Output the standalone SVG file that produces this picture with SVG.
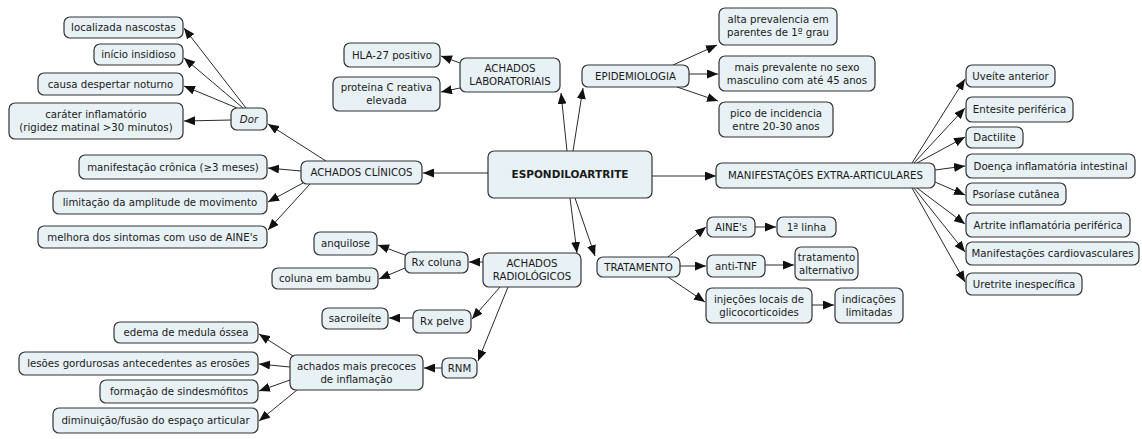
<svg xmlns="http://www.w3.org/2000/svg" width="1142" height="439" viewBox="0 0 1142 439">
  <defs>
    <marker id="arrow" markerUnits="userSpaceOnUse" markerWidth="12" markerHeight="9" refX="11" refY="4.5" orient="auto">
      <path d="M0,0 L11,4.5 L0,9 z" fill="#111"/>
    </marker>
    <style>
      .n rect { fill: #e8f1f5; stroke: #333; stroke-width: 1.2; }
      .n text { font-family: "DejaVu Sans", Verdana, sans-serif; font-size: 10.2px; fill: #1a1a1a; text-anchor: middle; }
      .b text { font-weight: bold; font-size: 10.5px; }
      .i text { font-style: italic; }
      #connectors line { stroke: #2a2a2a; stroke-width: 1; marker-end: url(#arrow); }
    </style>
  </defs>
  <rect width="1142" height="439" fill="#fff"/>

  <g id="connectors">
    <!-- central concept -->
    <line x1="488" y1="173" x2="423" y2="173"/>
    <line x1="652" y1="176" x2="716" y2="176"/>
    <line x1="567" y1="151" x2="561" y2="93"/>
    <line x1="573" y1="151" x2="583" y2="88"/>
    <line x1="570" y1="198" x2="577" y2="253"/>
    <line x1="575" y1="198" x2="595" y2="256"/>
    <!-- achados clinicos -->
    <line x1="326" y1="161" x2="268" y2="124"/>
    <line x1="301" y1="171" x2="268" y2="168"/>
    <line x1="303" y1="183" x2="268" y2="202"/>
    <line x1="310" y1="184" x2="268" y2="230"/>
    <!-- dor -->
    <line x1="246" y1="108" x2="184" y2="28"/>
    <line x1="243" y1="108" x2="184" y2="58"/>
    <line x1="237" y1="108" x2="184" y2="86"/>
    <line x1="231" y1="120" x2="184" y2="121"/>
    <!-- laboratoriais -->
    <line x1="460" y1="63" x2="441" y2="56"/>
    <line x1="460" y1="88" x2="441" y2="92"/>
    <!-- epidemiologia -->
    <line x1="673" y1="65" x2="717" y2="45"/>
    <line x1="689" y1="74" x2="718" y2="74"/>
    <line x1="677" y1="87" x2="718" y2="101"/>
    <!-- extra-articulares -->
    <line x1="912" y1="163" x2="965" y2="79"/>
    <line x1="914" y1="163" x2="965" y2="108"/>
    <line x1="917" y1="163" x2="965" y2="137"/>
    <line x1="935" y1="170" x2="965" y2="166"/>
    <line x1="935" y1="182" x2="965" y2="195"/>
    <line x1="917" y1="188" x2="965" y2="224"/>
    <line x1="914" y1="188" x2="965" y2="252"/>
    <line x1="912" y1="188" x2="965" y2="282"/>
    <!-- tratamento -->
    <line x1="668" y1="257" x2="706" y2="227"/>
    <line x1="680" y1="266" x2="706" y2="266"/>
    <line x1="668" y1="277" x2="705" y2="302"/>
    <line x1="755" y1="227" x2="776" y2="227"/>
    <line x1="765" y1="265" x2="794" y2="265"/>
    <line x1="812" y1="305" x2="834" y2="305"/>
    <!-- radiologicos -->
    <line x1="483" y1="262" x2="469" y2="262"/>
    <line x1="405" y1="255" x2="378" y2="245"/>
    <line x1="405" y1="268" x2="379" y2="279"/>
    <line x1="500" y1="287" x2="472" y2="319"/>
    <line x1="508" y1="287" x2="478" y2="361"/>
    <line x1="413" y1="318" x2="389" y2="318"/>
    <line x1="442" y1="368" x2="424" y2="368"/>
    <line x1="293" y1="356" x2="259" y2="334"/>
    <line x1="290" y1="367" x2="259" y2="364"/>
    <line x1="290" y1="380" x2="259" y2="391"/>
    <line x1="297" y1="390" x2="259" y2="421"/>
  </g>

  <g id="espondiloartrite" class="n b"><rect x="488" y="151" width="164" height="47" rx="6"/><text x="570" y="178">ESPONDILOARTRITE</text></g>

  <g id="achados-clinicos" class="n"><rect x="301" y="161" width="121" height="23" rx="6"/><text x="361.5" y="176">ACHADOS CLÍNICOS</text></g>
  <g id="dor" class="n i"><rect x="231" y="108" width="36" height="22" rx="6"/><text x="249" y="122.5">Dor</text></g>
  <g id="localizada" class="n"><rect x="64" y="17" width="119" height="21" rx="6"/><text x="123.5" y="31">localizada nascostas</text></g>
  <g id="inicio" class="n"><rect x="94" y="44" width="89" height="21" rx="6"/><text x="138.5" y="58">início insidioso</text></g>
  <g id="despertar" class="n"><rect x="38" y="73" width="145" height="22" rx="6"/><text x="110.5" y="87.5">causa despertar noturno</text></g>
  <g id="carater" class="n"><rect x="9" y="103" width="174" height="36" rx="6"/><text x="96" y="118">caráter inflamatório</text><text x="96" y="131">(rigidez matinal &gt;30 minutos)</text></g>
  <g id="cronica" class="n"><rect x="79" y="155" width="188" height="24" rx="6"/><text x="173" y="170.5">manifestação crônica (≥3 meses)</text></g>
  <g id="limitacao" class="n"><rect x="53" y="191" width="214" height="23" rx="6"/><text x="160" y="206">limitação da amplitude de movimento</text></g>
  <g id="melhora" class="n"><rect x="38" y="226" width="229" height="22" rx="6"/><text x="152.5" y="240.5">melhora dos sintomas com uso de AINE's</text></g>

  <g id="laboratoriais" class="n"><rect x="460" y="58" width="100" height="34" rx="6"/><text x="510" y="72">ACHADOS</text><text x="510" y="85">LABORATORIAIS</text></g>
  <g id="hla" class="n"><rect x="344" y="43" width="96" height="24" rx="6"/><text x="392" y="58.5">HLA-27 positivo</text></g>
  <g id="pcr" class="n"><rect x="333" y="77" width="107" height="34" rx="6"/><text x="386.5" y="91">proteina C reativa</text><text x="386.5" y="104">elevada</text></g>

  <g id="epidemiologia" class="n"><rect x="582" y="65" width="107" height="22" rx="6"/><text x="635.5" y="79.5">EPIDEMIOLOGIA</text></g>
  <g id="parentes" class="n"><rect x="719" y="8" width="118" height="37" rx="6"/><text x="778" y="23">alta prevalencia em</text><text x="778" y="36">parentes de 1º grau</text></g>
  <g id="masculino" class="n"><rect x="719" y="56" width="156" height="35" rx="6"/><text x="797" y="70.5">mais prevalente no sexo</text><text x="797" y="83.5">masculino com até 45 anos</text></g>
  <g id="pico" class="n"><rect x="719" y="102" width="114" height="35" rx="6"/><text x="776" y="116.5">pico de incidencia</text><text x="776" y="129.5">entre 20-30 anos</text></g>

  <g id="extra-articulares" class="n"><rect x="716" y="163" width="219" height="25" rx="6"/><text x="825.5" y="179">MANIFESTAÇÕES EXTRA-ARTICULARES</text></g>
  <g id="uveite" class="n"><rect x="966" y="65" width="89" height="22" rx="6"/><text x="1010.5" y="79.5">Uveíte anterior</text></g>
  <g id="entesite" class="n"><rect x="966" y="97" width="107" height="25" rx="6"/><text x="1019.5" y="113">Entesite periférica</text></g>
  <g id="dactilite" class="n"><rect x="966" y="127" width="57" height="21" rx="6"/><text x="994.5" y="141">Dactilite</text></g>
  <g id="doenca" class="n"><rect x="966" y="154" width="169" height="24" rx="6"/><text x="1050.5" y="169.5">Doença inflamatória intestinal</text></g>
  <g id="psoriase" class="n"><rect x="966" y="183" width="100" height="22" rx="6"/><text x="1016" y="197.5">Psoríase cutânea</text></g>
  <g id="artrite" class="n"><rect x="966" y="213" width="164" height="24" rx="6"/><text x="1048" y="228.5">Artrite inflamatória periférica</text></g>
  <g id="cardiovasculares" class="n"><rect x="966" y="242" width="173" height="23" rx="6"/><text x="1052.5" y="257">Manifestações cardiovasculares</text></g>
  <g id="uretrite" class="n"><rect x="966" y="273" width="116" height="22" rx="6"/><text x="1024" y="287.5">Uretrite inespecífica</text></g>

  <g id="tratamento" class="n"><rect x="597" y="257" width="83" height="20" rx="6"/><text x="638.5" y="270.5">TRATAMENTO</text></g>
  <g id="aines" class="n"><rect x="707" y="217" width="48" height="20" rx="6"/><text x="731" y="230.5">AINE's</text></g>
  <g id="primeira-linha" class="n"><rect x="777" y="217" width="59" height="20" rx="6"/><text x="806.5" y="230.5">1ª linha</text></g>
  <g id="anti-tnf" class="n"><rect x="707" y="255" width="58" height="22" rx="6"/><text x="736" y="269.5">anti-TNF</text></g>
  <g id="alternativo" class="n"><rect x="795" y="247" width="63" height="33" rx="6"/><text x="826.5" y="260.5">tratamento</text><text x="826.5" y="273.5">alternativo</text></g>
  <g id="injecoes" class="n"><rect x="706" y="288" width="106" height="35" rx="6"/><text x="759" y="302.5">injeções locais de</text><text x="759" y="315.5">glicocorticoides</text></g>
  <g id="indicacoes" class="n"><rect x="835" y="288" width="68" height="35" rx="6"/><text x="869" y="302.5">indicações</text><text x="869" y="315.5">limitadas</text></g>

  <g id="radiologicos" class="n"><rect x="483" y="253" width="98" height="34" rx="6"/><text x="532" y="267">ACHADOS</text><text x="532" y="280">RADIOLÓGICOS</text></g>
  <g id="rx-coluna" class="n"><rect x="405" y="252" width="63" height="21" rx="6"/><text x="436.5" y="266">Rx coluna</text></g>
  <g id="anquilose" class="n"><rect x="314" y="232" width="63" height="23" rx="6"/><text x="345.5" y="247">anquilose</text></g>
  <g id="bambu" class="n"><rect x="272" y="268" width="106" height="21" rx="6"/><text x="325" y="282">coluna em bambu</text></g>
  <g id="rx-pelve" class="n"><rect x="413" y="310" width="58" height="23" rx="6"/><text x="442" y="325">Rx pelve</text></g>
  <g id="sacroileite" class="n"><rect x="322" y="308" width="66" height="21" rx="6"/><text x="355" y="322">sacroileíte</text></g>
  <g id="rnm" class="n"><rect x="442" y="358" width="35" height="20" rx="6"/><text x="459.5" y="371.5">RNM</text></g>
  <g id="precoces" class="n"><rect x="290" y="355" width="133" height="35" rx="6"/><text x="356.5" y="369.5">achados mais precoces</text><text x="356.5" y="382.5">de inflamação</text></g>
  <g id="edema" class="n"><rect x="114" y="322" width="144" height="21" rx="6"/><text x="186" y="336">edema de medula óssea</text></g>
  <g id="lesoes" class="n"><rect x="19" y="352" width="239" height="23" rx="6"/><text x="138.5" y="367">lesões gordurosas antecedentes as erosões</text></g>
  <g id="sindesmofitos" class="n"><rect x="100" y="380" width="158" height="23" rx="6"/><text x="179" y="395">formação de sindesmófitos</text></g>
  <g id="espaco" class="n"><rect x="53" y="408" width="205" height="25" rx="6"/><text x="155.5" y="424">diminuição/fusão do espaço articular</text></g>
</svg>
